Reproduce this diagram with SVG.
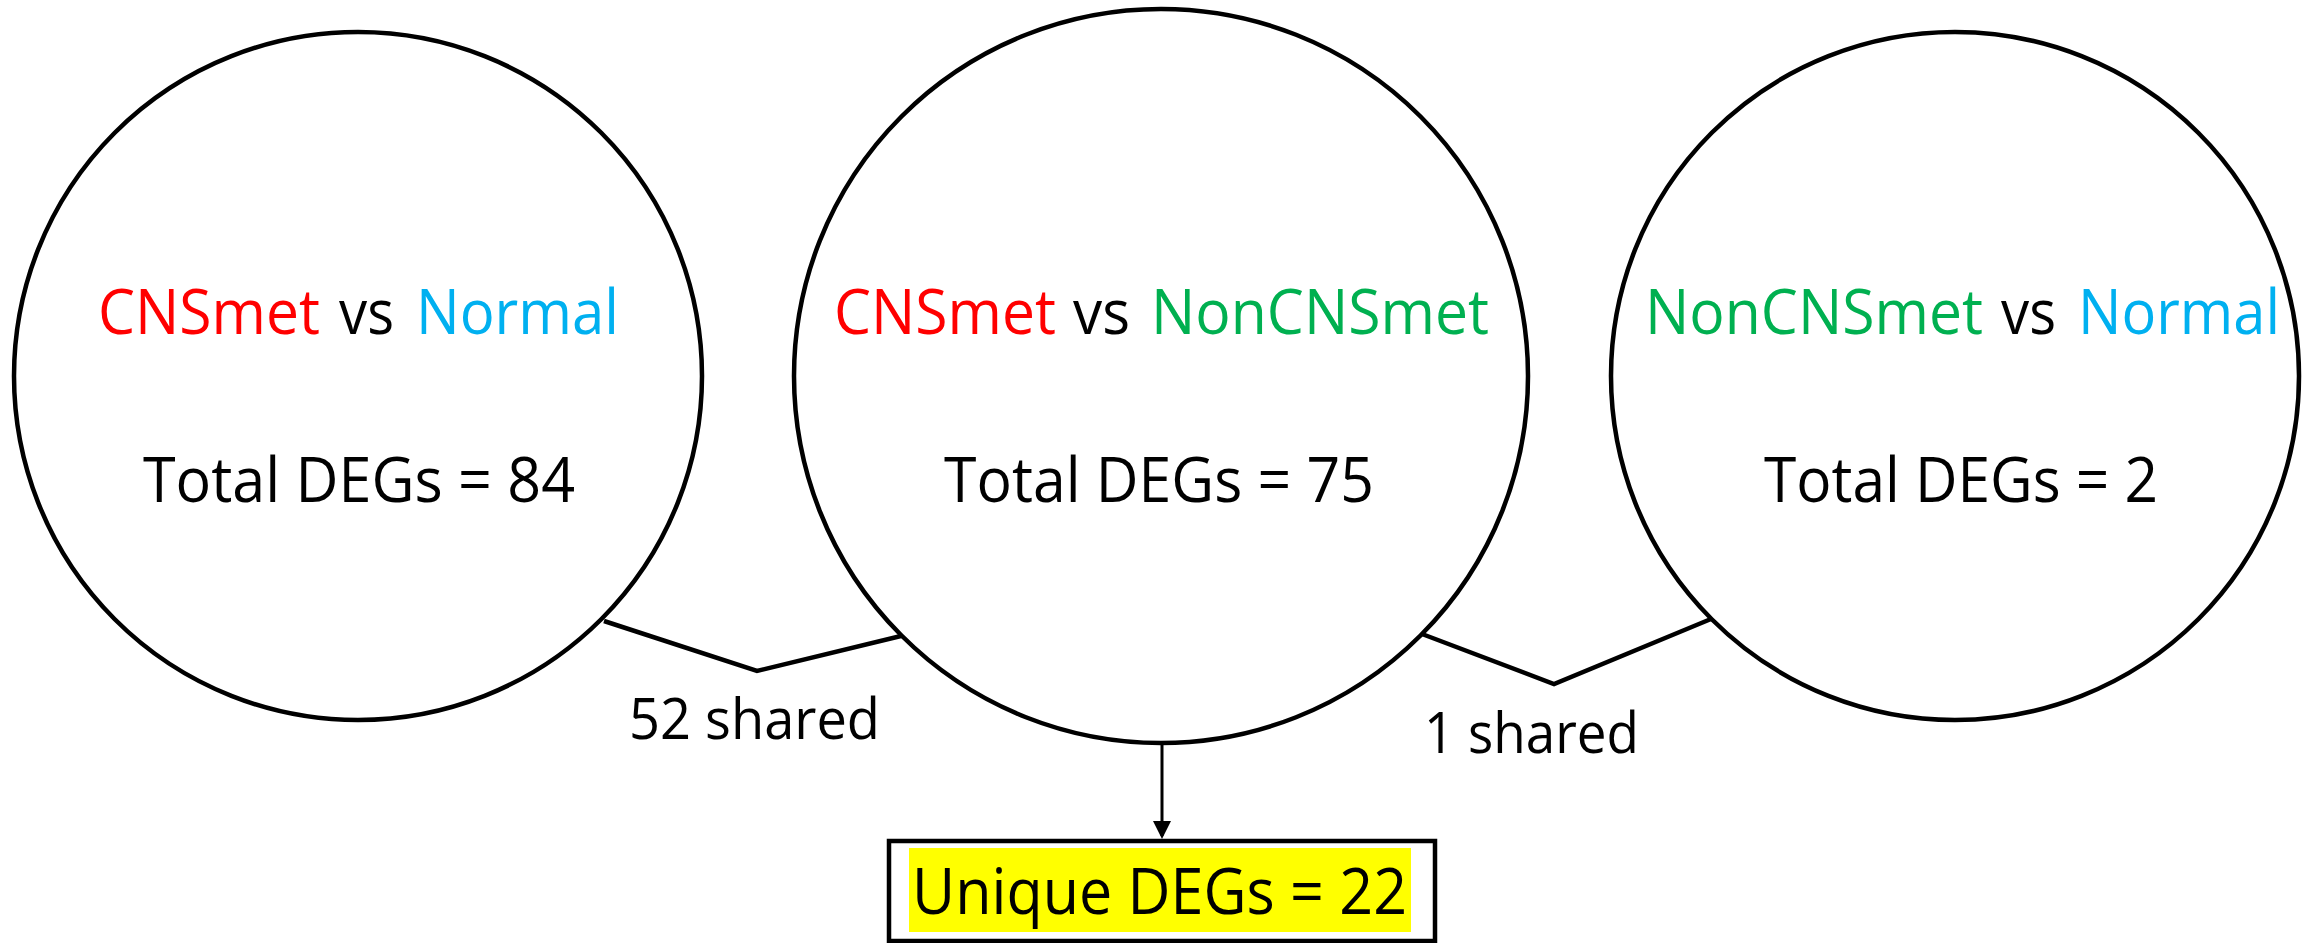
<svg xmlns="http://www.w3.org/2000/svg" width="2318" height="943" viewBox="0 0 2318 943">
<style>
.c{fill:#fff;stroke:#000;stroke-width:4.5}
.t{font-family:"Open Sans","Liberation Sans",sans-serif;fill:#000}
.big{font-size:62px}
.sm{font-size:57px}
.red{fill:#FF0000}
.blue{fill:#00B0F0}
.green{fill:#00B050}
.ln{fill:none;stroke:#000;stroke-width:4.5;stroke-linejoin:miter}
</style>
<defs>
<marker id="ah" markerWidth="6" markerHeight="6" refX="5" refY="3" orient="auto" markerUnits="strokeWidth">
<path d="M0,0 L6,3 L0,6 Z" fill="#000"/>
</marker>
</defs>
<rect width="2318" height="943" fill="#fff"/>
<g id="connectors">
<polyline class="ln" points="604,621 757,671 901,636"/>
<polyline class="ln" points="1422,634 1554,684 1711,619"/>
<line x1="1162" y1="744" x2="1162" y2="836" stroke="#000" stroke-width="3" marker-end="url(#ah)"/>
<text class="t sm" x="629" y="739" textLength="251" lengthAdjust="spacingAndGlyphs">52 shared</text>
<text class="t sm" x="1424" y="753" textLength="215" lengthAdjust="spacingAndGlyphs">1 shared</text>
</g>
<g id="node-left">
<circle class="c" cx="358" cy="376" r="344"/>
<text class="t big red" x="98" y="334" textLength="222" lengthAdjust="spacingAndGlyphs">CNSmet</text>
<text class="t big" x="339" y="334" textLength="55" lengthAdjust="spacingAndGlyphs">vs</text>
<text class="t big blue" x="416" y="334" textLength="203" lengthAdjust="spacingAndGlyphs">Normal</text>
<text class="t big" x="143" y="502" textLength="432" lengthAdjust="spacingAndGlyphs">Total DEGs = 84</text>
</g>
<g id="node-middle">
<circle class="c" cx="1161" cy="376" r="367"/>
<text class="t big red" x="834" y="334" textLength="222" lengthAdjust="spacingAndGlyphs">CNSmet</text>
<text class="t big" x="1073" y="334" textLength="57" lengthAdjust="spacingAndGlyphs">vs</text>
<text class="t big green" x="1151" y="334" textLength="338" lengthAdjust="spacingAndGlyphs">NonCNSmet</text>
<text class="t big" x="944" y="502" textLength="430" lengthAdjust="spacingAndGlyphs">Total DEGs = 75</text>
</g>
<g id="node-right">
<circle class="c" cx="1955" cy="376" r="344"/>
<text class="t big green" x="1645" y="334" textLength="338" lengthAdjust="spacingAndGlyphs">NonCNSmet</text>
<text class="t big" x="2001" y="334" textLength="55" lengthAdjust="spacingAndGlyphs">vs</text>
<text class="t big blue" x="2078" y="334" textLength="202" lengthAdjust="spacingAndGlyphs">Normal</text>
<text class="t big" x="1764" y="502" textLength="394" lengthAdjust="spacingAndGlyphs">Total DEGs = 2</text>
</g>
<g id="node-unique">
<rect x="889" y="841" width="546" height="100" fill="#fff" stroke="#000" stroke-width="4.5"/>
<rect x="909" y="848" width="502" height="84" fill="#FFFF00"/>
<text class="t" font-size="64" x="912" y="914" textLength="495" lengthAdjust="spacingAndGlyphs">Unique DEGs = 22</text>
</g>
</svg>
